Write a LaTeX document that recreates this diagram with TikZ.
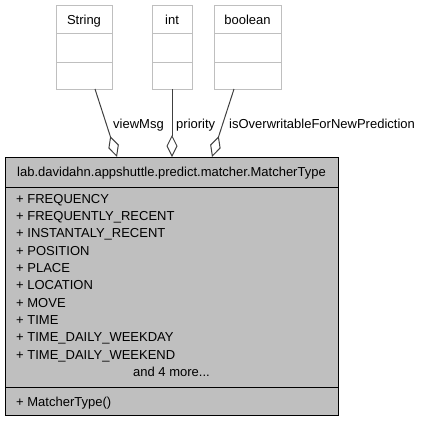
\documentclass[tikz,border=0pt]{standalone}
\usepackage{fontspec}
\setmainfont{Liberation Sans}
\usetikzlibrary{arrows.meta}
\definecolor{boxgray}{HTML}{BFBFBF}
\definecolor{edgegray}{HTML}{404040}
\begin{document}
\begin{tikzpicture}[x=1pt,y=-1pt,
  font=\fontsize{13}{15}\selectfont,
  typebox/.style={draw=boxgray,fill=white,line width=1pt,inner sep=0pt,anchor=north west},
  typeline/.style={draw=boxgray,line width=1pt},
  classbox/.style={draw=black,fill=boxgray,line width=1pt,inner sep=0pt,anchor=north west},
  classline/.style={draw=black,line width=1pt},
  txt/.style={inner sep=0pt,anchor=base west},
  ctxt/.style={inner sep=0pt,anchor=base},
  assoc/.style={draw=edgegray,line width=1pt,-{Diamond[fill=white,length=22pt,width=11pt,line width=1pt]}}
]
\useasboundingbox (0,0) rectangle (423,421);
% type boxes
\node[typebox,minimum width=56pt,minimum height=84pt] (str) at (56,5) {};
\node[typebox,minimum width=40pt,minimum height=84pt] (int) at (152,5) {};
\node[typebox,minimum width=67pt,minimum height=84pt] (bool) at (214,5) {};
\foreach \b in {str,int,bool}{
  \draw[typeline] ([yshift=-28pt]\b.north west) -- ([yshift=-28pt]\b.north east);
  \draw[typeline] ([yshift=-57pt]\b.north west) -- ([yshift=-57pt]\b.north east);
}
\node[ctxt] (strt) at (84,24) {String};
\node[ctxt] (intt) at (172,24) {int};
\node[ctxt] (boolt) at (247.5,24) {boolean};
% class box
\node[classbox,minimum width=333pt,minimum height=258pt] (mt) at (5,157) {};
\draw[classline] (mt.west |- 0,187.5) -- (mt.east |- 0,187.5);
\draw[classline] (mt.west |- 0,387) -- (mt.east |- 0,387);
\node[ctxt] (mth) at (171.5,176) {lab.davidahn.appshuttle.predict.matcher.MatcherType};
\foreach \t [count=\i from 0] in {FREQUENCY,FREQUENTLY\_RECENT,INSTANTALY\_RECENT,POSITION,PLACE,LOCATION,MOVE,TIME,TIME\_DAILY\_WEEKDAY,TIME\_DAILY\_WEEKEND}{
  \node[txt] (a\i) at (16,203.3+17.33*\i) {+ \t};
}
\node[ctxt] (more) at (171.5,376.6) {and 4 more...};
\node[txt] (ctor) at (16,406.7) {+ MatcherType()};
% connector end points
\coordinate (s1) at (95,89);
\coordinate (e1) at (117,157);
\coordinate (s2) at (172,89);
\coordinate (e2) at (172,157);
\coordinate (s3) at (234,89);
\coordinate (e3) at (212,157);
\draw[assoc] (s1) -- (e1);
\draw[assoc] (s2) -- (e2);
\draw[assoc] (s3) -- (e3);
\node[txt] (l1) at (113,128) {viewMsg};
\node[txt] (l2) at (176,128) {priority};
\node[txt] (l3) at (229,128) {isOverwritableForNewPrediction};
\end{tikzpicture}
\end{document}
